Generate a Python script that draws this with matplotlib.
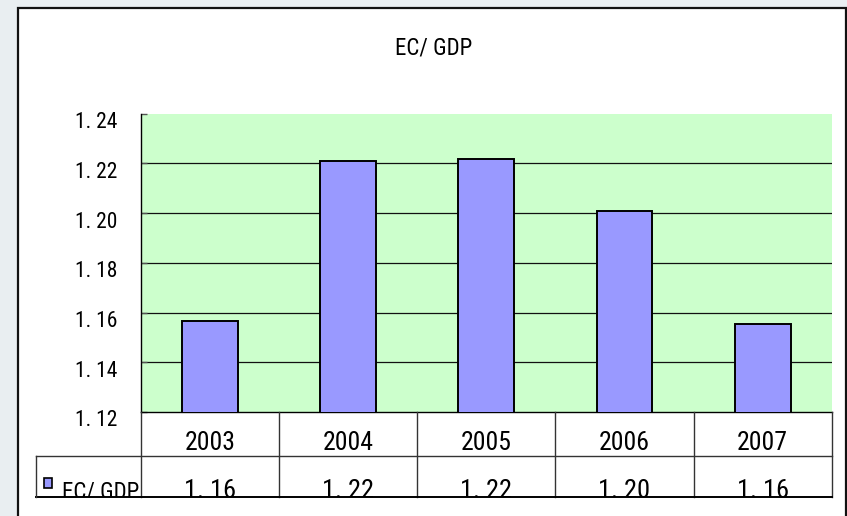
import os
import matplotlib
matplotlib.use("Agg")
import matplotlib.pyplot as plt
from matplotlib import font_manager
from matplotlib.patches import Rectangle
from matplotlib.lines import Line2D
from matplotlib.transforms import ScaledTranslation, blended_transform_factory

# ---------------- data ----------------
years = ["2003", "2004", "2005", "2006", "2007"]
values = [1.1565, 1.2209, 1.2217, 1.2009, 1.1556]
table_values = ["1. 16", "1. 22", "1. 22", "1. 20", "1. 16"]
series_name = "EC/ GDP"
title = "EC/ GDP"
yticks = [1.12, 1.14, 1.16, 1.18, 1.20, 1.22, 1.24]
ytick_labels = ["1. 12", "1. 14", "1. 16", "1. 18", "1. 20", "1. 22", "1. 24"]

# ---------------- fonts: prefer a narrow sans ----------------
files = [f.fname for f in font_manager.fontManager.ttflist]
prefs = ["liberationsansnarrow-regular", "robotocondensed-regular",
         "notosans-condensed.", "notosans-semicondensed.",
         "opensans_condensed-regular", "opensans-condensed-regular",
         "dejavusanscondensed.", "liberationsans-regular", "arimo-regular"]
chosen = None
narrow = False
for i, p in enumerate(prefs):
    hits = [f for f in files if p in os.path.basename(f).lower()]
    if hits:
        chosen = hits[0]
        narrow = i < 7
        break


def fp(size):
    if chosen:
        return font_manager.FontProperties(fname=chosen, size=size)
    return font_manager.FontProperties(family="Liberation Sans", size=size)


k = 1.0 if narrow else 0.88  # shrink a little if only a regular-width font exists

W, H = 847, 516
fig = plt.figure(figsize=(W / 100, H / 100), dpi=100, facecolor="#E9EEF1")

# outer white chart frame
fig.add_artist(Rectangle((18 / W, -0.02), (846 - 18) / W, (H - 7.5) / H + 0.02,
                         transform=fig.transFigure, facecolor="white",
                         edgecolor="#111111", lw=1.6, zorder=0))

# ---------------- main plot ----------------
px_left, px_right, px_top, px_bottom = 141, 831.7, 113.7, 412
ax = fig.add_axes([px_left / W, (H - px_bottom) / H,
                   (px_right - px_left) / W, (px_bottom - px_top) / H])
ax.set_facecolor("#CCFFCC")
x = list(range(len(years)))
ax.bar(x, values, width=0.405, color="#9999FF", edgecolor="black",
       linewidth=1.4, zorder=3)
ax.set_xlim(-0.5, len(years) - 0.5)
ax.set_ylim(yticks[0], yticks[-1])
for yv in yticks[1:-1]:
    ax.axhline(yv, color="#111111", lw=0.9, zorder=1)
ax.set_yticks(yticks, labels=ytick_labels)
ax.set_xticks([])
ax.tick_params(axis="y", direction="in", length=4, width=1, color="#555555",
               pad=17)
for lab in ax.get_yticklabels():
    lab.set_fontproperties(fp(15.5 * k))
    lab.set_transform(lab.get_transform() + ScaledTranslation(0, -6.5 / 100, fig.dpi_scale_trans))
for side in ("top", "right"):
    ax.spines[side].set_visible(False)
ax.spines["left"].set_color("black")
ax.spines["left"].set_linewidth(1.0)
ax.spines["bottom"].set_color("black")
ax.spines["bottom"].set_linewidth(1.0)

fig.text(434 / W, 1 - 48 / H, title, ha="center", va="center",
         fontproperties=fp(16.5 * k))

# ---------------- data table ----------------
t_left, t_top, t_bottom = 36, 412, 497.3
tax = fig.add_axes([t_left / W, (H - t_bottom) / H,
                    (px_right - t_left) / W, (t_bottom - t_top) / H])
tax.set_xlim(t_left, px_right)
tax.set_ylim(t_bottom, t_top)
tax.axis("off")
tax.patch.set_alpha(0)
bt = blended_transform_factory(ax.transData, tax.transData)

row_split = 456
lc = "#333333"
for i in range(len(years) + 1):
    tax.add_line(Line2D([i - 0.5, i - 0.5], [t_top, t_bottom], transform=bt,
                        color=lc, lw=1.0, clip_on=False))
tax.add_line(Line2D([t_left, px_right], [row_split, row_split], color=lc, lw=1.0, clip_on=False))
tax.add_line(Line2D([t_left, px_right], [t_bottom, t_bottom], color="black", lw=1.4, clip_on=False))
tax.add_line(Line2D([t_left, t_left], [row_split, t_bottom], color=lc, lw=1.0, clip_on=False))

for i, yr in enumerate(years):
    tax.text(i, 443.5, yr, transform=bt, ha="center", va="center",
             fontproperties=fp(18.5 * k))
    tax.text(i, 498.5, table_values[i], transform=bt, ha="center",
             va="baseline", fontproperties=fp(19 * k), clip_on=True)

# legend key + series name
tax.add_patch(Rectangle((43.5, 478), 8, 10, facecolor="#9999FF",
                        edgecolor="black", lw=1.2, clip_on=False))
tax.text(62, 498.5, series_name, ha="left", va="baseline",
         fontproperties=fp(16.5 * k), clip_on=True)

fig.savefig("out.png", dpi=100, facecolor=fig.get_facecolor())
